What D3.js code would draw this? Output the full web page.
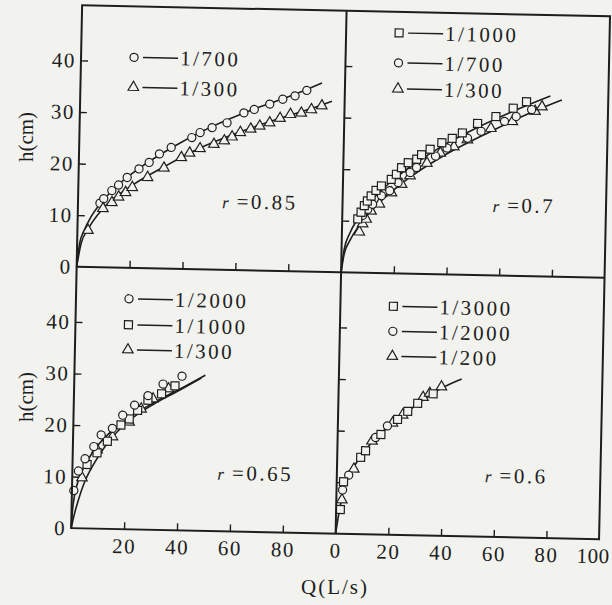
<!DOCTYPE html>
<html>
<head>
<meta charset="utf-8">
<script src="https://cdn.jsdelivr.net/npm/d3@7"></script>
<style>
  body { margin: 0; background: #f2f2ee; }
  svg { display: block; font-family: "Liberation Serif", serif; }
</style>
</head>
<body>
<svg width="612" height="605"></svg>
<script>
// ---- data, [Q (L/s), h (cm)] ----
// top left, r = 0.85
const tl700 = [[8.3,12.4],[9.7,13.3],[12.7,14.9],[15.2,16.0],[18.4,17.5],[22.8,19.2],[26.6,20.5],[30.4,22.2],[34.8,23.5],[42.5,25.5],[45.6,26.5],[50.1,27.5],[55.7,28.5],[62.0,30.5],[65.9,31.2],[71.7,32.3],[76.6,33.3],[81.2,34.0],[85.6,35.1]];
const tl300 = [[4.0,7.1],[9.5,11.4],[12.8,12.6],[15.3,13.7],[17.9,14.6],[20.4,15.6],[26.1,17.6],[32.2,19.5],[38.7,21.6],[41.8,22.5],[45.7,23.4],[50.9,24.3],[54.8,25.0],[57.7,25.8],[60.8,26.7],[64.7,27.4],[68.1,28.0],[71.8,28.7],[75.7,29.6],[79.6,30.4],[83.7,30.7],[87.5,31.4],[91.4,32.2]];
const tl700Fit = [[0,0],[1,4.7],[2.5,7.0],[5,9.7],[8.3,12.2],[15,16.0],[22.8,19.3],[34.8,23.4],[50,27.7],[65.9,31.3],[81.2,34.3],[91.3,36.6]];
const tl300Fit = [[0,0],[1.5,4.5],[4,7.3],[9.5,11.4],[20.4,16.0],[32.2,19.7],[45.7,23.5],[60.8,26.8],[75.7,29.6],[87.5,31.6],[95.2,33.1]];

// top right, r = 0.7
const tr1000 = [[5.9,10.4],[7.1,11.7],[8.3,13.0],[9.4,13.9],[10.8,14.9],[12.6,16.0],[14.6,16.9],[18.3,18.2],[20.2,19.2],[22.1,20.5],[24.6,21.5],[27.8,22.2],[29.6,23.1],[32.8,24.2],[37.2,25.5],[41.1,26.4],[44.9,27.5],[50.6,29.4],[57.5,30.8],[64.0,32.5],[69.0,33.8]];
const tr700 = [[7.7,11.1],[9.6,12.3],[11.4,13.3],[14.7,15.0],[17.8,16.0],[20.9,17.6],[25.4,19.6],[27.8,20.6],[34.9,22.9],[39.2,24.5],[46.9,26.5],[52.0,27.9],[60.8,29.9],[65.2,30.9],[71.0,32.3]];
const tr300 = [[6.6,7.9],[7.8,9.5],[9.1,10.4],[10.9,12.0],[14.0,13.4],[18.5,15.6],[22.3,17.3],[25.4,19.0],[31.7,21.5],[36.7,23.5],[41.8,24.8],[46.9,26.2],[55.7,28.5],[63.8,29.9],[72.3,32.0],[74.9,32.9]];
const trFitA = [[0,0],[1,4.5],[3,7.6],[5.9,10.4],[10.8,13.9],[18.3,17.8],[27.8,21.6],[37.2,24.8],[50.6,28.6],[64,31.9],[78,35.0]];
const trFitB = [[0,0],[1,3.5],[3,6.1],[6.6,9.2],[10.9,12.0],[18.5,15.8],[25.4,18.7],[36.7,22.6],[55.7,27.9],[72.3,32.1],[82.4,34.3]];

// bottom left, r = 0.65
const bl2000 = [[0.7,7.3],[2.3,11.1],[4.7,13.5],[7.9,15.9],[10.6,18.2],[14.8,19.5],[18.6,22.1],[23.0,24.1],[28.0,26.0],[33.6,28.3],[40.7,29.9]];
const bl1000 = [[5.5,12.4],[9.2,14.7],[13.0,17.0],[18.0,20.2],[21.1,21.4],[24.2,23.1],[28.0,25.1],[33.1,26.4],[38.1,28.0]];
const bl300 = [[3.7,9.8],[9.2,15.3],[14.9,17.9],[21.1,20.8],[25.5,23.4],[29.9,25.4],[35.7,27.4]];
const blFitA = [[0,0],[0.3,3],[1,6.3],[2.5,9.5],[5,12.5],[10,16.5],[20,21.2],[30,24.6],[40,27.4],[49.5,30.2]];
const blFitB = [[0,0],[1,2.5],[2.5,5.5],[4.5,8.7],[8,12.5],[13,16.6],[20,20.6],[30,24.3],[40,27.2],[48,29.6]];

// bottom right, r = 0.6
const br3000 = [[1.6,4.7],[2.6,10.1],[8.9,14.9],[10.7,16.2],[16.4,19.4],[22.6,22.4],[26.4,24.0],[30.1,25.6],[35.9,27.5]];
const br2000 = [[2.3,8.5],[4.5,11.4],[14.4,18.8],[18.8,21.1]];
const br200 = [[2.1,6.6],[6.4,12.6],[13.1,18.1],[20.7,21.7],[24.5,23.3],[32.1,26.8],[34.6,27.6],[39.0,28.9]];
const brFit = [[0,0],[0.8,3],[1.6,5.5],[2.6,8.8],[4.5,11.3],[8.9,15.0],[14.4,18.7],[20.7,21.6],[26.4,24.0],[34.6,27.2],[40,28.9],[46.6,30.5]];

const xTicks = [20, 40, 60, 80];
const xTicksFull = [0, 20, 40, 60, 80, 100];
const yTicks = [10, 20, 30, 40];
const yTicksLabelled = [0, 10, 20, 30, 40];

// ---- layout ----
const L = 76, M = 340.5, R = 604, T = 10, H = 271.5, B = 533;
const ink = '#1e1e1e';
const bg = '#f2f2ee';

const svg = d3.select('svg');
svg.append('rect').attr('width', 612).attr('height', 605).attr('fill', bg);

// the scan is turned a little clockwise
const root = svg.append('g').attr('transform', 'rotate(1.2 306 300)');

const panels = [
  { x0: L, x1: M, yb: H, yt: T, r: '0.85', ann: [144, 200],
    series: [[tl700, 'circle'], [tl300, 'triangle']], fits: [tl700Fit, tl300Fit],
    legend: [['circle', '1/700', 51], ['triangle', '1/300', 81]],
    xt: xTicks, xl: null, yl: true },
  { x0: M, x1: R, yb: H, yt: T, r: '0.7', ann: [150, 198],
    series: [[tr300, 'triangle'], [tr700, 'circle'], [tr1000, 'square']], fits: [trFitA, trFitB],
    legend: [['square', '1/1000', 21], ['circle', '1/700', 51], ['triangle', '1/300', 77]],
    xt: xTicks, xl: null, yl: false },
  { x0: L, x1: M, yb: B, yt: H, r: '0.65', ann: [145, 210],
    series: [[bl300, 'triangle'], [bl1000, 'square'], [bl2000, 'circle']], fits: [blFitA, blFitB],
    legend: [['circle', '1/2000', 31], ['square', '1/1000', 57], ['triangle', '1/300', 82]],
    xt: xTicks, xl: xTicks, yl: true },
  { x0: M, x1: R, yb: B, yt: H, r: '0.6', ann: [148, 207],
    series: [[br200, 'triangle'], [br2000, 'circle'], [br3000, 'square']], fits: [brFit],
    legend: [['square', '1/3000', 33], ['circle', '1/2000', 58], ['triangle', '1/200', 83]],
    xt: xTicksFull, xl: xTicksFull, yl: false }
];

const symbols = {
  circle: d3.symbol().type(d3.symbolCircle).size(52),
  square: d3.symbol().type(d3.symbolSquare).size(64),
  triangle: d3.symbol().type(d3.symbolTriangle).size(48)
};

function drawSymbol(g, type, cx, cy) {
  g.append('path')
    .attr('d', symbols[type]())
    .attr('transform', `translate(${cx},${cy})`)
    .attr('fill', bg)
    .attr('stroke', ink)
    .attr('stroke-width', 1.2);
}

panels.forEach(p => {
  const x = d3.scaleLinear().domain([0, 100]).range([p.x0, p.x1]);
  const y = d3.scaleLinear().domain([0, 50.7]).range([p.yb, p.yt]);
  const g = root.append('g');

  // ticks pointing inwards
  const ax = g.append('g')
    .attr('transform', `translate(0,${p.yb})`)
    .call(d3.axisBottom(x).tickValues(p.xl || p.xt).tickSize(-7).tickSizeOuter(0).tickPadding(9)
      .tickFormat(p.xl ? d3.format('d') : ''));
  const ay = g.append('g')
    .attr('transform', `translate(${p.x0},0)`)
    .call(d3.axisLeft(y).tickValues(p.yl ? yTicksLabelled : yTicks).tickSize(-7).tickSizeOuter(0).tickPadding(5)
      .tickFormat(p.yl ? d3.format('d') : ''));
  [ax, ay].forEach(a => {
    a.select('.domain').remove();
    a.selectAll('line').attr('stroke', ink).attr('stroke-width', 1.4);
    a.selectAll('text').attr('fill', ink).attr('font-size', 21).attr('letter-spacing', 1.5)
      .attr('font-family', '"Liberation Serif", serif');
  });
  ay.selectAll('.tick').filter(d => d === 0).select('line').remove();
  ax.selectAll('.tick').filter(d => d === 0 || d === 100).select('line').remove();
  // keep the last label inside the page
  ax.selectAll('.tick').filter(d => d === 100).select('text')
    .attr('letter-spacing', 0.5).attr('dx', -6);

  // fitted curves
  const line = d3.line().x(d => x(d[0])).y(d => y(d[1])).curve(d3.curveMonotoneX);
  p.fits.forEach(f => {
    g.append('path').attr('d', line(f)).attr('fill', 'none')
      .attr('stroke', ink).attr('stroke-width', 1.6);
  });

  // measured points
  p.series.forEach(([pts, type]) => {
    pts.forEach(d => drawSymbol(g, type, x(d[0]), y(d[1])));
  });

  // legend
  p.legend.forEach(([type, label, dy]) => {
    const ly = p.yt + dy;
    drawSymbol(g, type, p.x0 + 53, ly);
    g.append('line')
      .attr('x1', p.x0 + 62).attr('x2', p.x0 + 97)
      .attr('y1', ly).attr('y2', ly)
      .attr('stroke', ink).attr('stroke-width', 1.4);
    g.append('text')
      .attr('x', p.x0 + 99).attr('y', ly + 7)
      .attr('font-size', 21).attr('letter-spacing', 2.5).attr('fill', ink)
      .text(label);
  });

  // r annotation
  const t = g.append('text')
    .attr('x', p.x0 + p.ann[0]).attr('y', p.yt + p.ann[1])
    .attr('font-size', 21).attr('fill', ink);
  t.append('tspan').attr('font-style', 'italic').attr('font-size', 17).text('r');
  t.append('tspan').attr('dx', 8).attr('letter-spacing', 2.5).text('=' + p.r);
});

// panel frame
root.append('rect')
  .attr('x', L).attr('y', T).attr('width', R - L).attr('height', B - T)
  .attr('fill', 'none').attr('stroke', ink).attr('stroke-width', 2);
root.append('line').attr('x1', M).attr('x2', M).attr('y1', T).attr('y2', B)
  .attr('stroke', ink).attr('stroke-width', 2);
root.append('line').attr('x1', L).attr('x2', R).attr('y1', H).attr('y2', H)
  .attr('stroke', ink).attr('stroke-width', 2);

// axis titles
[137, 397].forEach(cy => {
  svg.append('text')
    .attr('transform', `translate(33,${cy}) rotate(-90)`)
    .attr('text-anchor', 'middle')
    .attr('font-size', 21).attr('fill', ink)
    .text('h(cm)');
});
svg.append('text')
  .attr('x', 335).attr('y', 594)
  .attr('text-anchor', 'middle')
  .attr('font-size', 21).attr('letter-spacing', 2).attr('fill', ink)
  .text('Q(L/s)');
</script>
</body>
</html>
